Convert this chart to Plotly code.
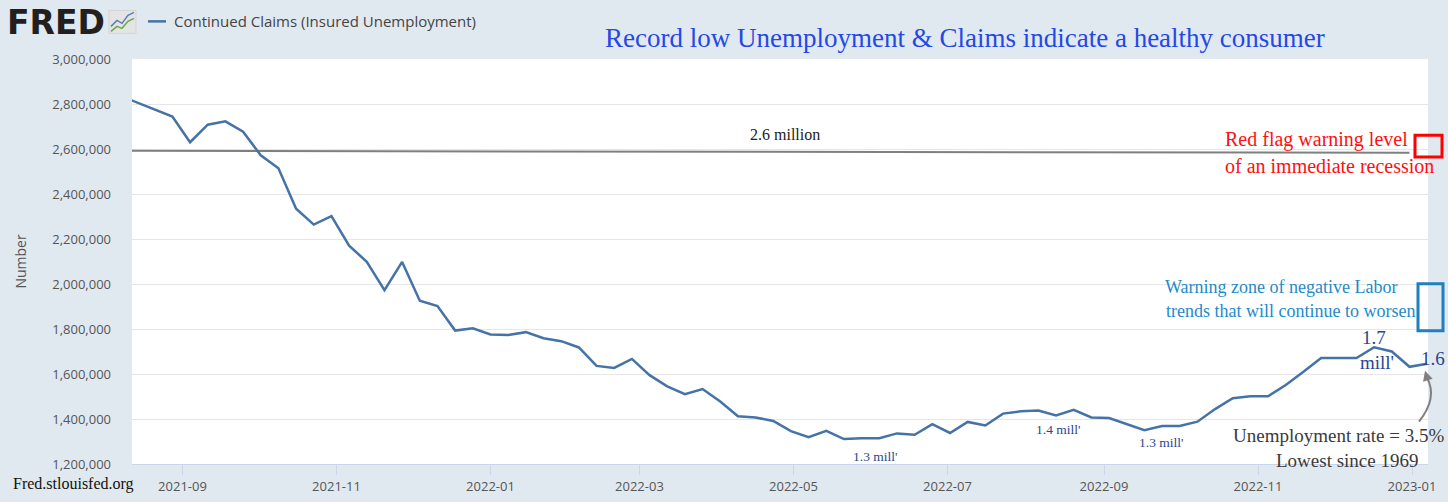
import pandas as pd
import plotly.graph_objects as go

# weekly continued claims, Saturdays from 2021-08-07 (first point sits just left of the view)
week_start = "2021-08-07"
claims = [
    2838000, 2807000, 2776000, 2744000, 2630000, 2708000, 2723000, 2677000,
    2572000, 2514000, 2335000, 2264000, 2302000, 2170000, 2099000, 1973000,
    2098000, 1926000, 1902000, 1793000, 1803000, 1776000, 1773000, 1786000,
    1759000, 1746000, 1718000, 1636000, 1627000, 1667000, 1595000, 1545000,
    1510000, 1533000, 1478000, 1412000, 1407000, 1391000, 1346000, 1319000,
    1347000, 1311000, 1314000, 1315000, 1336000, 1330000, 1377000, 1338000,
    1387000, 1371000, 1424000, 1434000, 1438000, 1416000, 1441000, 1407000,
    1404000, 1378000, 1350000, 1369000, 1369000, 1388000, 1444000, 1492000,
    1501000, 1501000, 1551000, 1610000, 1671000, 1671000, 1671000, 1719000,
    1700000, 1632000, 1646000,
]
dates = pd.date_range(week_start, periods=len(claims), freq="7D")

# hand drawn "2.6 million" level line
level_x = ["2021-08-12", "2022-12-31"]
level_y = [2592000, 2583000]

x_view = ["2021-08-12", "2023-01-07 08:00"]
y_ticks = list(range(1200000, 3000001, 200000))
y_labels = [f"{v:,}" for v in y_ticks]

W, H = 1448, 502
L, R, T, B = 132, 1428, 58.7, 464.5


def px(x):
    return (x - L) / (R - L)


def py(y):
    return (B - y) / (B - T)


serif = "Liberation Serif, Times New Roman, serif"
sans = "Open Sans, sans-serif"

fig = go.Figure()
fig.add_trace(go.Scatter(x=level_x, y=level_y, mode="lines",
                         line=dict(color="#7f7f7f", width=2), hoverinfo="skip"))
fig.add_trace(go.Scatter(x=dates, y=claims, mode="lines",
                         line=dict(color="#4572a7", width=2.5)))

notes = [
    # text, x, y, size, color
    ("Record low Unemployment &amp; Claims indicate a healthy consumer", 965, 38, 27, "#2448e6"),
    ("2.6 million", 785, 134, 16, "#222222"),
    ("Red flag warning level", 1316, 139, 20, "#ff1010"),
    ("of an immediate recession", 1329, 166, 20, "#ff1010"),
    ("Warning zone of negative Labor", 1281, 287, 18, "#1f8ac8"),
    ("trends that will continue to worsen", 1290, 311, 18, "#1f8ac8"),
    ("1.7", 1374, 338, 19, "#28478f"),
    ("mill'", 1377, 363, 19, "#28478f"),
    ("1.6", 1433, 359, 19, "#28478f"),
    ("1.3 mill'", 875, 457, 13.5, "#28478f"),
    ("1.4 mill'", 1058, 430, 13.5, "#28478f"),
    ("1.3 mill'", 1161, 443, 13.5, "#28478f"),
    ("Unemployment rate = 3.5%", 1338, 436, 19, "#3a3a3a"),
    ("Lowest since 1969", 1347, 461, 19, "#3a3a3a"),
    ("Fred.stlouisfed.org", 73, 485, 16, "#111111"),
]
for text, x, y, size, color in notes:
    fig.add_annotation(x=px(x), y=py(y), xref="paper", yref="paper", text=text,
                       showarrow=False, xanchor="center", yanchor="middle",
                       font=dict(family=serif, size=size, color=color))

# FRED logo and legend
fig.add_annotation(x=px(5), y=py(22), xref="paper", yref="paper", text="<b>FRED</b>",
                   showarrow=False, xanchor="left", yanchor="middle",
                   font=dict(family="DejaVu Sans, sans-serif", size=33, color="#231f20"))
fig.add_annotation(x=px(172), y=py(21), xref="paper", yref="paper",
                   text="Continued Claims (Insured Unemployment)",
                   showarrow=False, xanchor="left", yanchor="middle",
                   font=dict(family=sans, size=15, color="#444444"))

shapes = [
    dict(type="line", x0=px(148), x1=px(166), y0=py(21), y1=py(21),
         line=dict(color="#4572a7", width=2.5)),
    dict(type="rect", x0=px(109), x1=px(136), y0=py(33), y1=py(10),
         fillcolor="#e4e4e4", line=dict(color="#d4d4d4", width=1)),
    dict(type="path", path=f"M {px(111)} {py(26)} L {px(117)} {py(20)} L {px(122)} {py(23)} "
                            f"L {px(128)} {py(15)} L {px(134)} {py(12)}",
         line=dict(color="#5a7fb8", width=1.5)),
    dict(type="path", path=f"M {px(111)} {py(31)} L {px(117)} {py(26)} L {px(122)} {py(28)} "
                            f"L {px(128)} {py(21)} L {px(134)} {py(18)}",
         line=dict(color="#6aa84f", width=1.5)),
    # red and blue boxes at the right edge
    dict(type="rect", x0=px(1415), x1=px(1442), y0=py(157), y1=py(135),
         line=dict(color="#ff0000", width=3)),
    dict(type="rect", x0=px(1418), x1=px(1443), y0=py(331), y1=py(284),
         line=dict(color="#1f7fc0", width=3)),
    # curved arrow
    dict(type="path", path=f"M {px(1419)} {py(422)} Q {px(1438)} {py(398)} {px(1427)} {py(378)}",
         line=dict(color="#808080", width=2)),
]
for s in shapes:
    s.update(xref="paper", yref="paper")
fig.update_layout(shapes=shapes)
fig.add_annotation(x=px(1425), y=py(371), xref="paper", yref="paper",
                   ax=3, ay=10, text="", showarrow=True,
                   arrowhead=2, arrowsize=1, arrowwidth=2, arrowcolor="#808080")

fig.update_layout(
    width=W, height=H,
    margin=dict(l=L, r=W - R, t=T, b=H - B, autoexpand=False),
    paper_bgcolor="#e1e9f0",
    plot_bgcolor="#ffffff",
    showlegend=False,
    font=dict(family=sans, size=13, color="#555555"),
)
fig.update_xaxes(
    range=x_view, tickformat="%Y-%m", dtick="M2", tick0="2021-09-01",
    showgrid=False, ticks="outside", ticklen=10, tickcolor="#ccd6eb",
    showline=True, linecolor="#ccd6eb", linewidth=1, ticklabelstandoff=0,
    automargin=False,
    tickfont=dict(family=sans, size=13, color="#555555"),
)
fig.update_yaxes(
    range=[1200000, 3000000], tickvals=y_ticks, ticktext=y_labels,
    gridcolor="#e6e6e6", zeroline=False, ticks="", ticklabelstandoff=20,
    automargin=False,
    title=dict(text="Number", font=dict(family=sans, size=14, color="#555555"), standoff=22),
    tickfont=dict(family=sans, size=13, color="#555555"),
)

fig.write_html("out.html", config={"displayModeBar": False},
               post_script="document.body.style.margin='0';")
